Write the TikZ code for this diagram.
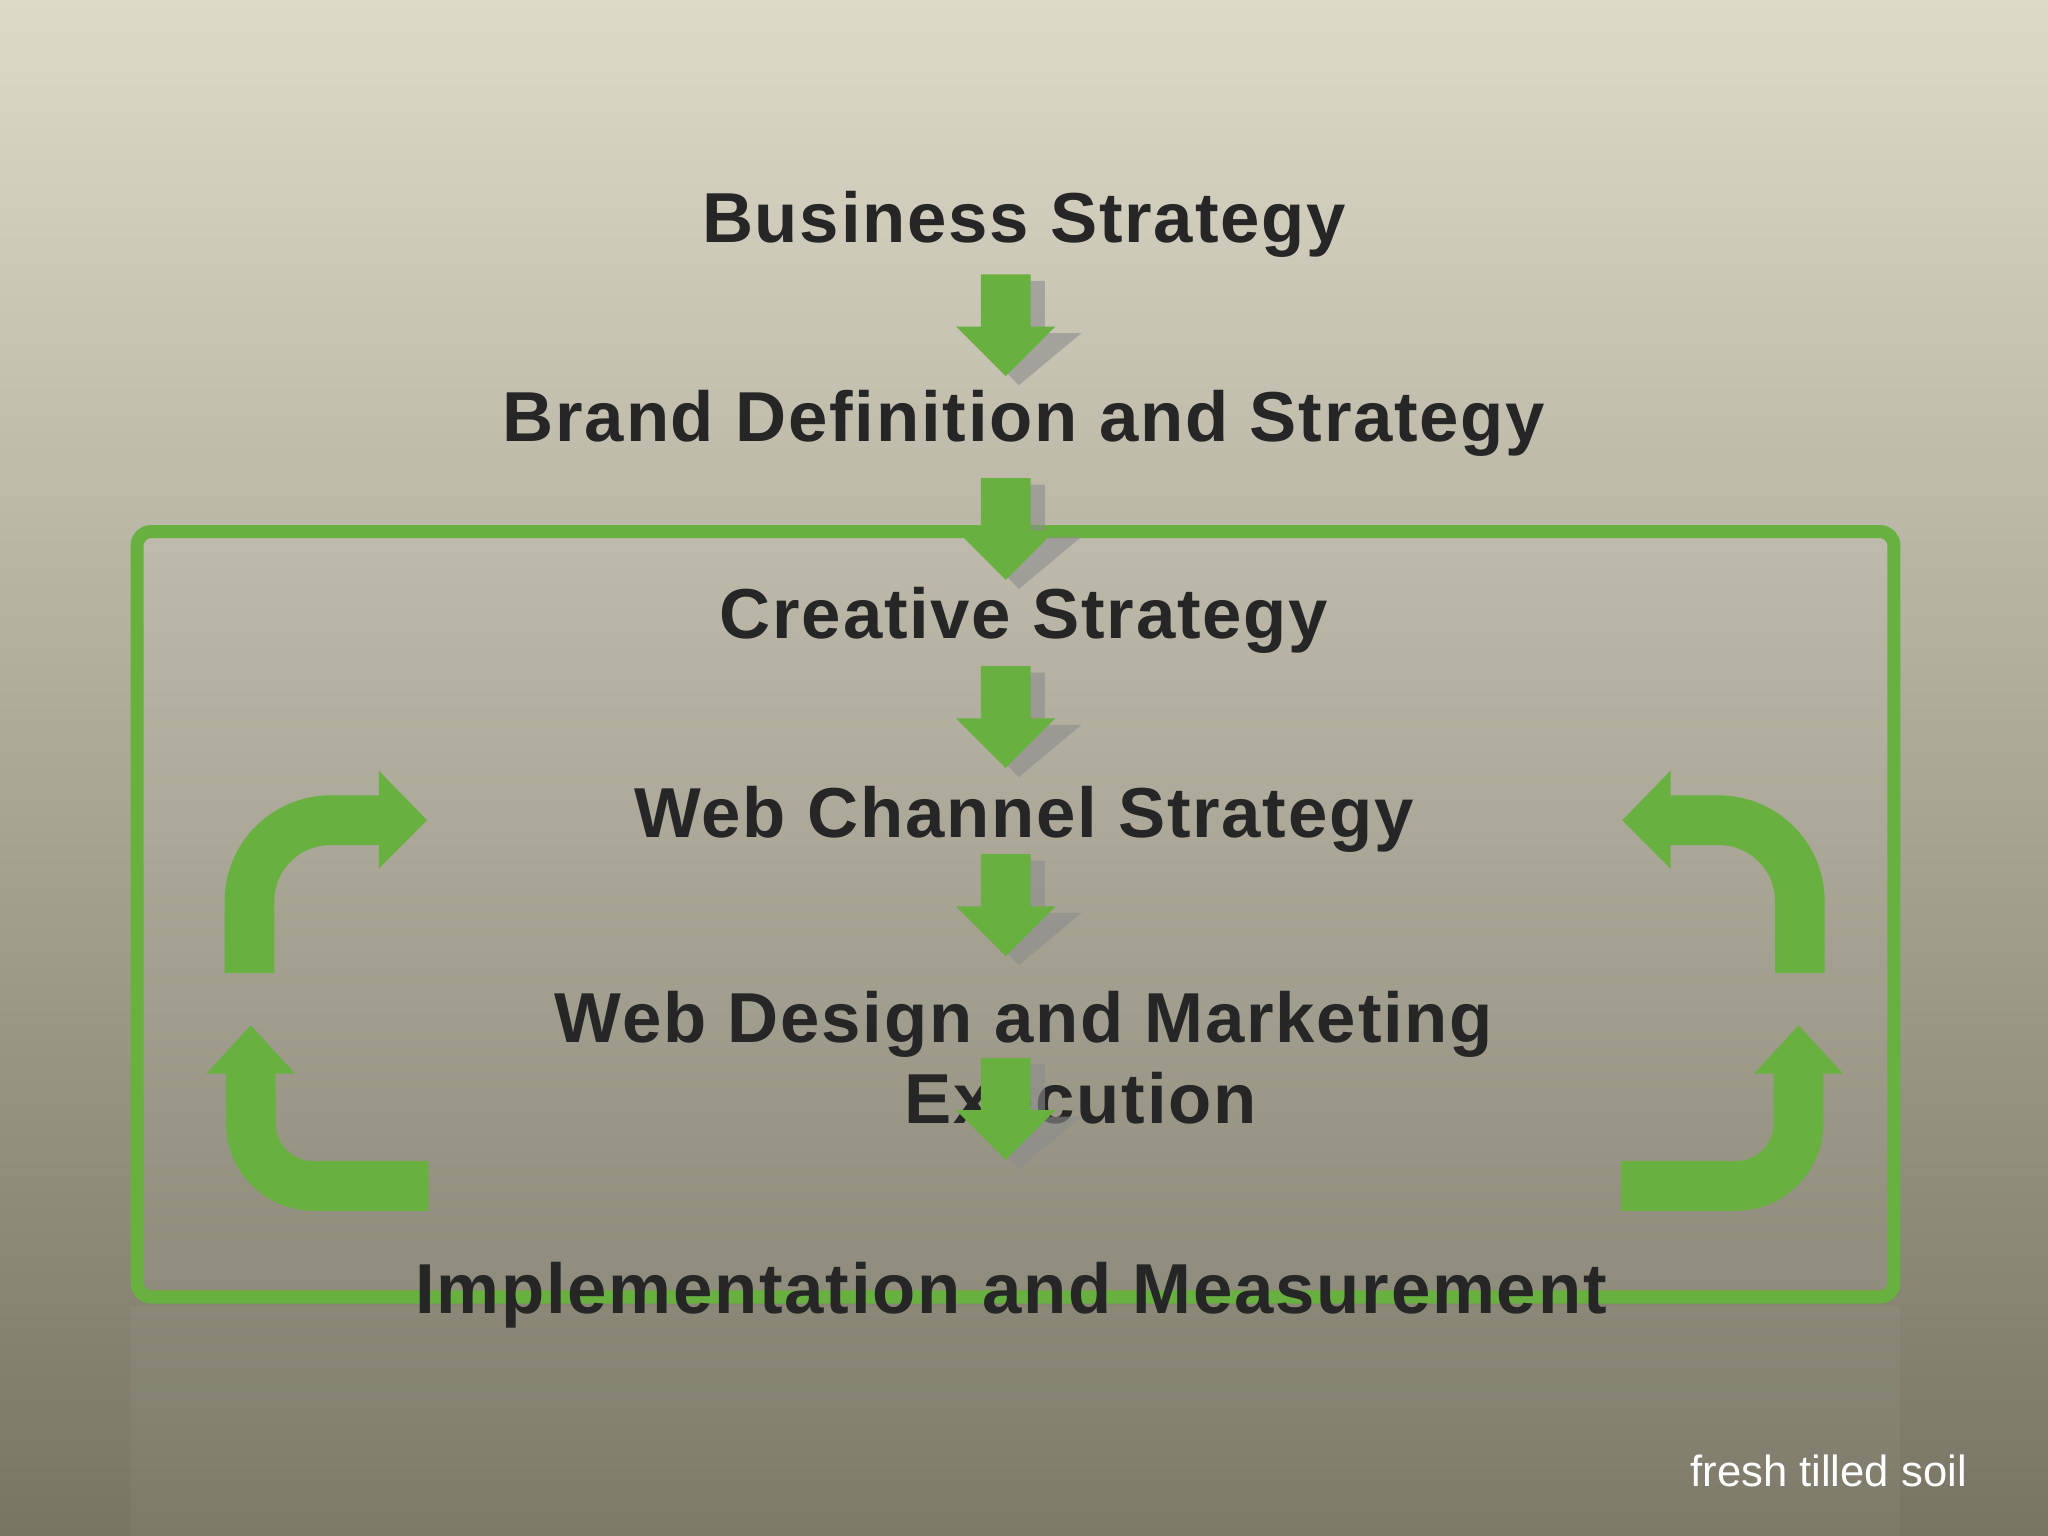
\documentclass[tikz,border=0pt]{standalone}
\usepackage{fontspec}
\setmainfont{Liberation Sans}
\begin{document}
\begin{tikzpicture}[x=0.01cm,y=-0.01cm,
  lbl/.style={font=\fontsize{15.4}{17.6}\selectfont\bfseries\addfontfeatures{LetterSpace=2.5}, text=black!85, align=center},
  ]
\definecolor{gr}{RGB}{104,176,64}
\useasboundingbox (0,0) rectangle (1568,1176);
\shade[top color={rgb,255:red,222;green,218;blue,202}, bottom color={rgb,255:red,120;green,117;blue,100}] (0,0) rectangle (1568,1176);
\fill[white,opacity=0.04] (100,1000) rectangle (1455,1176);
\fill[white,opacity=0.06] (105,407) rectangle (1450,990);
\draw[gr,line width=0.1cm,rounded corners=3] (105,407) rectangle (1450,993);
% down arrows
\newcommand{\darr}[2]{%
 \fill[black!45,opacity=0.6] (#1-8,#2+5) -- (#1+30,#2+5) -- (#1+30,#2+45) -- (#1+58,#2+45) -- (#1+10,#2+85) -- (#1-28,#2+45) -- (#1-8,#2+45) -- cycle;
 \fill[gr] (#1-19,#2) -- (#1+19,#2) -- (#1+19,#2+40) -- (#1+38,#2+40) -- (#1,#2+78) -- (#1-38,#2+40) -- (#1-19,#2+40) -- cycle;}
\node[lbl] (n1) at (784,172) {Business Strategy};
\node[lbl] (n2) at (784,324) {Brand Definition and Strategy};
\node[lbl] (n3) at (784,475) {Creative Strategy};
\node[lbl] (n4) at (784,627) {Web Channel Strategy};
\node[lbl] (n6) at (774,992) {Implementation and Measurement};
\darr{770}{210}
\darr{770}{366}
\darr{770}{510}
\darr{770}{654}
\node[lbl] (n5) at (784,810) {Web Design and Marketing\\\hspace*{1.6em}Execution};
\darr{770}{810}
% curved arrows
\foreach \s/\o in {1/0,-1/1569}{
\begin{scope}[xshift=\o*0.01cm,xscale=\s]
\draw[gr,line width=0.38cm] (191,745) -- (191,690) arc[start angle=180,end angle=270,radius=62] -- (292,628);
\fill[gr] (290,590) -- (327,628) -- (290,665) -- cycle;
\draw[gr,line width=0.38cm] (192,820) -- (192,860) arc[start angle=180,end angle=90,radius=48] -- (328,908);
\fill[gr] (158,822) -- (192,785) -- (226,822) -- cycle;
\end{scope}}
\node[text=white,font=\fontsize{9.5}{11}\selectfont] (ft) at (1400,1126) {fresh tilled soil};
\end{tikzpicture}
\end{document}
